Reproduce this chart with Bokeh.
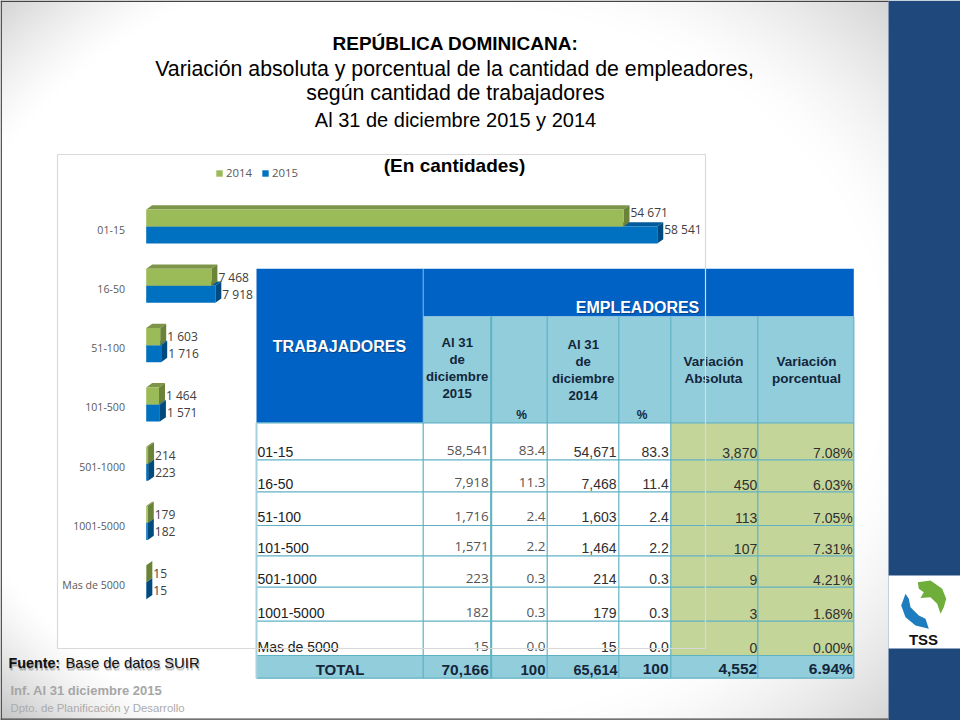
import numpy as np
from bokeh.plotting import figure
from bokeh.embed import file_html
from bokeh.resources import INLINE
from bokeh.core.properties import value
from bokeh.models import Range1d, LinearAxis, FixedTicker, Legend, LegendItem

# ---- data ----
categories = ["01-15", "16-50", "51-100", "101-500", "501-1000", "1001-5000", "Mas de 5000"]
emp_2014 = [54671, 7468, 1603, 1464, 214, 179, 15]
emp_2015 = [58541, 7918, 1716, 1571, 223, 182, 15]
pct_2015 = [83.4, 11.3, 2.4, 2.2, 0.3, 0.3, 0.0]
pct_2014 = [83.3, 11.4, 2.4, 2.2, 0.3, 0.3, 0.0]
var_abs = [3870, 450, 113, 107, 9, 3, 0]
var_pct = [7.08, 6.03, 7.05, 7.31, 4.21, 1.68, 0.00]
total_2015, total_2014, total_abs, total_pct = 70166, 65614, 4552, 6.94

# ---- figure in the reference's pixel frame ----
W, H = 960, 720
p = figure(width=W, height=H, output_backend="svg", toolbar_location=None,
           x_range=Range1d(0, 960), y_range=Range1d(720, 0), min_border=0,
           x_axis_type=None, y_axis_type=None, outline_line_color=None)
p.grid.visible = False

ZERO_X, PX_PER_UNIT = 145.7, 0.00873
ROW0_Y, ROW_STEP = 229.0, 59.3
p.extra_x_ranges["value"] = Range1d((0 - ZERO_X) / PX_PER_UNIT, (960 - ZERO_X) / PX_PER_UNIT)
p.extra_y_ranges["row"] = Range1d((720 - ROW0_Y) / ROW_STEP, (0 - ROW0_Y) / ROW_STEP)

ARIAL = "Liberation Sans"
OPEN = "Open Sans"


def label(x, y, text, size, color="#000000", font=ARIAL, style="normal", align="left", alpha=1.0):
    # y is the baseline of the text
    p.text(x=[x], y=[y - 0.36 * size], text=[text], text_font=value(font), text_font_size=f"{size}px",
           text_color=color, text_font_style=style, text_align=align,
           text_baseline="middle", text_alpha=alpha)


# ---- slide background: soft corner shading ----
yy, xx = np.mgrid[0:720:2, 0:888:2]
norm = np.sqrt(((xx - 444) / 444.0) ** 2 + ((yy - 360) / 360.0) ** 2)
left_t = np.clip((norm - 1.15) / (1.414 - 1.15), 0, 1) ** 1.3
right_t = np.clip((norm - 1.0) / (1.414 - 1.0), 0, 1) ** 1.4
low = np.clip((yy - 360) / 360.0, 0, 1)
drop = np.where(xx < 444, (42 + 18 * low) * left_t, 42 * right_t)
gray = (255 - drop).astype(np.uint32)
img = (255 << 24) | (gray << 16) | (gray << 8) | gray
p.image_rgba(image=[img.astype(np.uint32)], x=0, y=0, dw=888, dh=720, level="image")

# side panel and logo plate
p.quad(left=[888], right=[960], top=[0], bottom=[720], fill_color="#1F497D", line_color=None)
p.quad(left=[888], right=[960], top=[575], bottom=[648], fill_color="#FFFFFF", line_color=None)
p.multi_line(xs=[[0, 888], [0, 888], [0.7, 0.7]], ys=[[718.6, 718.6], [0.7, 0.7], [0, 720]],
             line_color="#444444", line_width=1.4)

# ---- titles ----
label(455, 50, "REPÚBLICA DOMINICANA:", 19, style="bold", align="center")
label(454, 76, "Variación absoluta y porcentual de la cantidad de empleadores,", 21.3, align="center")
label(455, 100, "según cantidad de trabajadores", 21.3, align="center")
label(455, 126.5, "Al 31 de diciembre 2015 y 2014", 20, align="center")

# ---- chart ----
p.quad(left=[57], right=[705], top=[154], bottom=[648], fill_color="#FFFFFF", line_color=None)
rows = list(range(len(categories)))
HALF = 0.287
SHIFT = -0.05
DX, DY = 687, 0.0725
GREEN = ("#9BBB59", "#7C9548", "#6B8239")
BLUE = ("#0070C0", "#005A9C", "#004A80")


def bars(vals, centers, colors):
    r = dict(x_range_name="value", y_range_name="row", line_color=None)
    tops, sides = ([], []), ([], [])
    for v, c in zip(vals, centers):
        a, b = c - HALF / 2, c + HALF / 2
        tops[0].append([0, v, v + DX, DX])
        tops[1].append([a, a, a - DY, a - DY])
        sides[0].append([v, v + DX, v + DX, v])
        sides[1].append([a, a - DY, b - DY, b])
    p.patches(xs=tops[0], ys=tops[1], fill_color=colors[1], **r)
    p.patches(xs=sides[0], ys=sides[1], fill_color=colors[2], **r)
    return p.hbar(y=centers, height=HALF, left=0, right=vals, fill_color=colors[0], **r)


c15 = [i + SHIFT + HALF / 2 for i in rows]
c14 = [i + SHIFT - HALF / 2 for i in rows]
r15 = bars(emp_2015, c15, BLUE)
r14 = bars(emp_2014, c14, GREEN)

for vals, centers in ((emp_2014, c14), (emp_2015, c15)):
    p.text(x=vals, y=centers, text=[f"{v:,}".replace(",", " ") for v in vals],
           x_offset=7, y_offset=[-6 if i == 0 else 0 for i in rows],
           text_font=value(OPEN), text_font_size="12px", text_color="#404040",
           text_baseline="middle", x_range_name="value", y_range_name="row")

cat_axis = LinearAxis(y_range_name="row", fixed_location=129.5, ticker=FixedTicker(ticks=rows),
                      major_label_overrides={i: c for i, c in enumerate(categories)},
                      major_tick_line_color=None, minor_tick_line_color=None, axis_line_color=None,
                      major_label_standoff=5, major_tick_in=0, major_tick_out=0,
                      major_label_text_font=OPEN, major_label_text_font_size="10.6px",
                      major_label_text_color="#595959")
p.add_layout(cat_axis, "left")

legend = Legend(items=[LegendItem(label="2014", renderers=[r14]), LegendItem(label="2015", renderers=[r15])],
                orientation="horizontal", location=(215, 540), padding=0, margin=0, spacing=9,
                glyph_width=8, glyph_height=8, label_standoff=3, label_height=10,
                label_text_font=OPEN, label_text_font_size="11.4px", label_text_color="#595959",
                background_fill_alpha=0, border_line_color=None)
p.add_layout(legend)

label(454, 172, "(En cantidades)", 19, style="bold", align="center")

# ---- table ----
col = [256, 422.7, 490.7, 546.7, 618.3, 670.3, 757.3, 853.3]
line = [422.3, 459.3, 491.3, 525, 555.3, 586.7, 620.7, 655, 677.7]
TOP, BAND = 268.3, 316
BLUE_H, LIGHT, OLIVE, GRID = "#0062C4", "#92CDDC", "#C4D59A", "#5FB2C4"
# white body, coloured cells
p.quad(left=[col[0]], right=[col[7]], top=[line[0]], bottom=[line[7]], fill_color="#FFFFFF", line_color=None)
p.quad(left=[col[5]], right=[col[7]], top=[line[0]], bottom=[line[7]], fill_color=OLIVE, line_color=None)
p.quad(left=[col[0]], right=[col[1]], top=[TOP], bottom=[line[0]], fill_color=BLUE_H, line_color=None)
p.quad(left=[col[1]], right=[col[7]], top=[TOP], bottom=[BAND], fill_color=BLUE_H, line_color=None)
p.quad(left=[col[1]], right=[col[7]], top=[BAND], bottom=[line[0]], fill_color=LIGHT, line_color=None)
p.quad(left=[col[0]], right=[col[7]], top=[line[7]], bottom=[line[8]], fill_color=LIGHT, line_color=None)
# grid
p.multi_line(xs=[[col[0], col[7]] for _ in line], ys=[[y, y] for y in line], line_color=GRID, line_width=1.2)
p.multi_line(xs=[[x, x] for x in col[1:]],
             ys=[[line[0] if i == 0 else BAND, line[8]] for i in range(len(col) - 1)],
             line_color=GRID, line_width=1.2)
p.line(x=[col[2], col[2]], y=[BAND, line[8]], line_color=GRID, line_width=2)
p.line(x=[col[1], col[1]], y=[TOP, line[0]], line_color="#7FB3DC", line_width=1)
p.line(x=[col[0], col[0]], y=[line[0], line[8]], line_color="#A5D2DE", line_width=2)

# header texts
for dx, dy, c, a in ((1, 1, "#0B2A50", 0.55), (0, 0, "#FFFFFF", 1)):
    label(339 + dx, 351.5 + dy, "TRABAJADORES", 16, c, style="bold", align="center", alpha=a)
    label(637 + dx, 312.7 + dy, "EMPLEADORES", 16, c, style="bold", align="center", alpha=a)

HEAD = "#13263A"
for cx, base, lines in ((456.7, 346.5, ["Al 31", "de", "diciembre", "2015"]),
                        (582.7, 348.5, ["Al 31", "de", "diciembre", "2014"])):
    for i, t in enumerate(lines):
        label(cx, base + i * 17, t, 13.2, HEAD, style="bold", align="center")
label(521, 418.7, "%", 12, HEAD, style="bold", align="center")
label(641.7, 418.7, "%", 12, HEAD, style="bold", align="center")
for cx, a, b in ((713, "Variación", "Absoluta"), (806, "Variación", "porcentual")):
    label(cx, 365.5, a, 13.5, HEAD, style="bold", align="center")
    label(cx, 383, b, 13.5, HEAD, style="bold", align="center")

# body texts
TXT = "#303030"
for i, cat in enumerate(categories):
    base = line[i + 1] - 3
    label(257, base, cat, 14, "#222222")
    label(488.3, base - 1, f"{emp_2015[i]:,}", 13.5, "#555555", font=OPEN, align="right")
    label(545, base - 1, f"{pct_2015[i]:.1f}", 13.5, "#555555", font=OPEN, align="right")
    label(616, base, f"{emp_2014[i]:,}", 14, TXT, align="right")
    label(668.3, base, f"{pct_2014[i]:.1f}", 14, TXT, align="right")
    label(756.7, base + 1, f"{var_abs[i]:,}", 14, TXT, align="right")
    label(852.3, base + 1, f"{var_pct[i]:.2f}%", 14, TXT, align="right")

# total row
label(339.5, 674, "TOTAL", 15, HEAD, style="bold", align="center")
label(488.3, 675, f"{total_2015:,}", 15.5, HEAD, style="bold", align="right")
label(545, 675, "100", 15, HEAD, style="bold", align="right")
label(617, 675, f"{total_2014:,}", 14.4, HEAD, style="bold", align="right")
label(668, 674, "100", 15.5, HEAD, style="bold", align="right")
label(756.7, 674, f"{total_abs:,}", 15.5, HEAD, style="bold", align="right")
label(852.3, 674, f"{total_pct:.2f}%", 15.5, HEAD, style="bold", align="right")

# chart frame stroke lies over the table
p.multi_line(xs=[[57, 705, 705, 57, 57]], ys=[[154, 154, 648, 648, 154]], line_color="#D9D9D9", line_width=1.2)

# ---- footer ----
for dx, dy, c, a in ((1, 3, "#555555", 0.2), (1, 2, "#555555", 0.3), (0, 1, "#777777", 0.25), (0, 0, "#111111", 1)):
    label(8 + dx, 668 + dy, "Fuente:", 14.3, c, style="bold", alpha=a)
    label(65 + dx, 668 + dy, "Base de datos SUIR", 14.8, c, alpha=a)
label(10, 695, "Inf. Al 31 diciembre 2015", 13, "#A6A6A6", style="bold")
label(10, 711.5, "Dpto. de Planificación y Desarrollo", 11.4, "#ABABAB")

# ---- logo ----
p.patch(x=[917.3, 930, 941.7, 945.7, 943.3, 940, 936.7, 930, 920, 923.3, 918.3],
        y=[581.7, 580, 588.3, 598.3, 606.7, 613.3, 603.3, 596.7, 597.5, 591.7, 588.3],
        fill_color="#6FAE3A", line_color=None)
p.patch(x=[905, 900.7, 905, 915, 928.3, 925, 918.3, 910, 908.3],
        y=[593.3, 605, 616.7, 625, 628.3, 618.3, 615, 606.7, 598.3],
        fill_color="#1E7DBE", line_color=None)
label(923, 644, "TSS", 15, "#111111", style="bold", align="center")

open("out.html", "w").write(file_html(p, INLINE))
